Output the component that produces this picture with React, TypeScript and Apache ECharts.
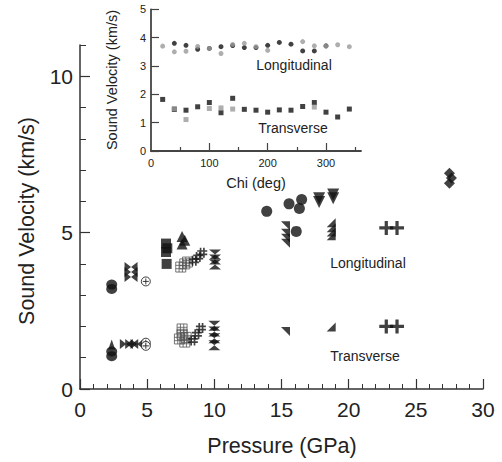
import React, { useEffect, useRef } from "react";
import * as echarts from "echarts";

// ---------- Main plot data: [pressure GPa, velocity km/s] ----------
const ellipsePts = [[2.36, 3.2], [2.36, 3.34], [2.36, 1.05], [2.36, 1.2]];
const smallTriPts = [[2.36, 1.42]];
const bowtiePts = [[3.8, 3.58], [3.8, 3.74], [3.8, 3.9], [3.45, 1.44], [3.85, 1.44], [4.25, 1.44]];
const circlePlusPts = [[4.9, 3.44], [4.9, 1.48], [4.9, 1.38]];
const squarePts = [[6.4, 4.65], [6.5, 4.5], [6.4, 4.38], [6.45, 4.0]];
const triUpPts = [[7.6, 4.88], [7.8, 4.76], [7.6, 4.64]];
const gridSqPts = [[7.5, 3.9], [7.8, 4.0], [8.0, 4.06], [7.4, 1.6], [7.6, 1.75], [7.6, 1.92], [7.8, 1.5], [7.9, 1.65]];
const hashPts = [[8.5, 4.1], [8.8, 4.22], [9.1, 4.36], [8.4, 1.55], [8.7, 1.75], [9.0, 1.95]];
const hourglassPts = [[10.05, 3.98], [10.05, 4.14], [10.05, 4.3], [10.0, 1.4], [10.0, 1.62], [10.0, 1.84], [10.0, 2.02]];
const circlePts = [[13.9, 5.68], [15.56, 5.92], [16.5, 6.06], [16.33, 5.77], [16.1, 5.04]];
const triNEPts = [[15.3, 5.22], [15.3, 4.98], [15.3, 4.82], [15.3, 4.66], [15.3, 1.84]];
const triSEPts = [[18.7, 5.32], [18.7, 5.16], [18.7, 5.02], [18.7, 4.9], [18.7, 1.98]];
const triDownPts = [[17.8, 6.1], [17.8, 5.98], [18.85, 6.22], [18.85, 6.1]];
const plusPts = [[22.8, 5.15], [23.6, 5.15], [22.8, 2.0], [23.6, 2.0]];
const diamondPts = [[27.5, 6.9], [27.65, 6.75], [27.5, 6.58]];

// ---------- Inset data: [chi deg, velocity km/s] ----------
const insetLongBlack = [[40, 3.8], [60, 3.73], [80, 3.59], [100, 3.62], [120, 3.68], [140, 3.72], [160, 3.65], [180, 3.65], [200, 3.73], [220, 3.83], [240, 3.77], [260, 3.53], [280, 3.53], [300, 3.71]];
const insetLongGray = [[20, 3.7], [40, 3.5], [60, 3.52], [80, 3.69], [100, 3.62], [120, 3.44], [140, 3.76], [160, 3.8], [180, 3.68], [200, 3.55], [260, 3.86], [280, 3.71], [300, 3.7], [320, 3.75], [340, 3.68]];
const insetTransBlack = [[20, 1.82], [40, 1.47], [60, 1.44], [80, 1.56], [100, 1.71], [120, 1.35], [140, 1.86], [160, 1.47], [180, 1.44], [200, 1.37], [220, 1.45], [240, 1.44], [260, 1.57], [280, 1.71], [300, 1.37], [320, 1.2], [340, 1.48]];
const insetTransGray = [[40, 1.5], [60, 1.11], [100, 1.5], [120, 1.52], [140, 1.48], [280, 1.55]];

// ---------- Tick values ----------
const mainYLabels = [0, 5, 10];
const mainYMinor = [1, 2, 3, 4, 6, 7, 8, 9, 11];
const insetXLabels = [0, 100, 200, 300];
const insetXMajor = [100, 200, 300];
const insetXMinor = [50, 150, 250, 350];

const FONT = "'Liberation Sans', Arial, Helvetica, sans-serif";
const BLACK = "#111";
const TXT = "#222";
const AX = "#333";

const P_BOWTIE = "path://M0,0 L6,5 L0,10 Z M12,0 L6,5 L12,10 Z";
const P_HOURGLASS = "path://M0,0 L10,0 L5,6 Z M0,12 L10,12 L5,6 Z";
const P_HASH = "path://M3,0h2v12h-2z M7,0h2v12h-2z M0,3h12v2h-12z M0,7h12v2h-12z";
const P_GRIDSQ = "path://M0,0H12V12H0Z M0,4H12 M0,8H12 M4,0V12 M8,0V12";
const P_CPLUS = "path://M0,6 A6,6 0 1 1 12,6 A6,6 0 1 1 0,6 Z M6,2 V10 M2,6 H10";
const P_PLUS = "path://M5,0 h3 v5 h5 v3 h-5 v5 h-3 v-5 h-5 v-3 h5 z";
const P_TRI_NE = "path://M0,0 H10 V10 Z";
const P_TRI_SE = "path://M10,0 V10 H0 Z";

function sc(data: number[][], symbol: string, size: any, style: any = {}, extra: any = {}) {
  return {
    type: "scatter",
    xAxisIndex: 0,
    yAxisIndex: 0,
    data,
    symbol,
    symbolSize: size,
    itemStyle: { color: BLACK, ...style },
    ...extra,
  };
}

export default function App() {
  const ref = useRef<HTMLDivElement>(null);
  useEffect(() => {
    if (!ref.current) return;
    const chart = echarts.init(ref.current, undefined, { renderer: "svg" });
    const option: any = {
      animation: false,
      backgroundColor: "#fff",
      textStyle: { fontFamily: FONT },
      grid: [
        { left: 80, top: 45, width: 403, height: 344 },
        { left: 151, top: 9.3, width: 210, height: 141.7 },
      ],
      xAxis: [
        {
          type: "value", gridIndex: 0, min: 0, max: 30, interval: 5, position: "bottom",
          axisLine: { onZero: false, lineStyle: { color: AX, width: 1.5 } },
          axisTick: { inside: true, length: 10, lineStyle: { color: AX, width: 1.2 } },
          minorTick: { show: true, splitNumber: 5, length: 5, lineStyle: { color: AX, width: 1 } },
          splitLine: { show: false },
          axisLabel: { fontSize: 21, color: TXT, margin: 10, fontFamily: FONT },
        },
        {
          type: "value", gridIndex: 1, min: 0, max: 360, interval: 100, position: "bottom",
          axisLine: { onZero: false, lineStyle: { color: "#444", width: 1.8 } },
          axisTick: { inside: true, length: 8, customValues: insetXMajor, lineStyle: { color: "#444", width: 1.2 } },
          splitLine: { show: false },
          axisLabel: { fontSize: 11, color: TXT, margin: 6, customValues: insetXLabels, fontFamily: FONT },
        },
        {
          type: "value", gridIndex: 1, min: 0, max: 360, position: "bottom",
          axisLine: { show: false, onZero: false },
          axisTick: { inside: true, length: 4, customValues: insetXMinor, lineStyle: { color: "#444", width: 1.2 } },
          splitLine: { show: false },
          axisLabel: { show: false },
        },
      ],
      yAxis: [
        {
          type: "value", gridIndex: 0, min: 0, max: 11, interval: 1, position: "left",
          axisLine: { show: true, onZero: false, lineStyle: { color: AX, width: 1.5 } },
          axisTick: { show: true, inside: true, length: 10, customValues: mainYLabels, lineStyle: { color: AX, width: 1.2 } },
          splitLine: { show: false },
          axisLabel: { fontSize: 21, color: TXT, margin: 7, customValues: mainYLabels, fontFamily: FONT },
        },
        {
          type: "value", gridIndex: 0, min: 0, max: 11, interval: 1, position: "left",
          axisLine: { show: false, onZero: false },
          axisTick: { show: true, inside: true, length: 6, customValues: mainYMinor, lineStyle: { color: AX, width: 1 } },
          splitLine: { show: false },
          axisLabel: { show: false },
        },
        {
          type: "value", gridIndex: 1, min: 0, max: 5, interval: 1, position: "left",
          axisLine: { show: true, onZero: false, lineStyle: { color: "#444", width: 1.8 } },
          axisTick: { show: true, inside: true, length: 8, lineStyle: { color: "#444", width: 1.2 } },
          splitLine: { show: false },
          axisLabel: { fontSize: 11, color: TXT, margin: 5, fontFamily: FONT },
        },
      ],
      series: [
        sc(ellipsePts, "circle", [11, 10]),
        sc(smallTriPts, "triangle", [7, 10]),
        sc(bowtiePts, P_BOWTIE, [13, 10]),
        sc(circlePlusPts, P_CPLUS, 9, { color: "#fff", borderColor: BLACK, borderWidth: 1 }),
        sc(squarePts, "rect", 10),
        sc(triUpPts, "triangle", 11),
        sc(gridSqPts, P_GRIDSQ, 10, { color: "transparent", borderColor: "#555", borderWidth: 1 }),
        sc(hashPts, P_HASH, 10),
        sc(hourglassPts, P_HOURGLASS, [12, 10]),
        sc(circlePts, "circle", 11),
        sc(triNEPts, P_TRI_NE, 9),
        sc(triSEPts, P_TRI_SE, 9),
        sc(triDownPts, "triangle", 12, {}, { symbolRotate: 180 }),
        sc(plusPts, P_PLUS, 14),
        sc(diamondPts, "diamond", [11, 11]),
        {
          type: "scatter", xAxisIndex: 1, yAxisIndex: 2, data: insetLongBlack,
          symbol: "circle", symbolSize: 5, itemStyle: { color: BLACK },
        },
        {
          type: "scatter", xAxisIndex: 1, yAxisIndex: 2, data: insetLongGray,
          symbol: "circle", symbolSize: 5, itemStyle: { color: "#9a9a9a" },
        },
        {
          type: "scatter", xAxisIndex: 1, yAxisIndex: 2, data: insetTransBlack,
          symbol: "rect", symbolSize: 5, itemStyle: { color: BLACK },
        },
        {
          type: "scatter", xAxisIndex: 1, yAxisIndex: 2, data: insetTransGray,
          symbol: "rect", symbolSize: 5, itemStyle: { color: "#9a9a9a" },
        },
      ],
      graphic: [
        { type: "text", x: 282, y: 446, style: { text: "Pressure (GPa)", font: `21.5px ${FONT}`, fill: TXT, align: "center", verticalAlign: "middle" } },
        { type: "text", x: 27, y: 221, rotation: Math.PI / 2, style: { text: "Sound Velocity (km/s)", font: `21.5px ${FONT}`, fill: TXT, align: "center", verticalAlign: "middle" } },
        { type: "text", x: 368, y: 262.5, style: { text: "Longitudinal", font: `14px ${FONT}`, fill: TXT, align: "center", verticalAlign: "middle" } },
        { type: "text", x: 365, y: 355.5, style: { text: "Transverse", font: `14px ${FONT}`, fill: TXT, align: "center", verticalAlign: "middle" } },
        { type: "text", x: 294, y: 64.5, style: { text: "Longitudinal", font: `14px ${FONT}`, fill: TXT, align: "center", verticalAlign: "middle" } },
        { type: "text", x: 293, y: 128, style: { text: "Transverse", font: `14px ${FONT}`, fill: TXT, align: "center", verticalAlign: "middle" } },
        { type: "text", x: 256, y: 183, style: { text: "Chi (deg)", font: `14.5px ${FONT}`, fill: TXT, align: "center", verticalAlign: "middle" } },
        { type: "text", x: 111.5, y: 80, rotation: Math.PI / 2, style: { text: "Sound Velocity (km/s)", font: `14.5px ${FONT}`, fill: TXT, align: "center", verticalAlign: "middle" } },
      ],
    };
    chart.setOption(option);
    return () => chart.dispose();
  }, []);
  return (
    <div
      ref={ref}
      style={{ position: "fixed", left: 0, top: 0, width: 502, height: 462, background: "#fff" }}
    />
  );
}
